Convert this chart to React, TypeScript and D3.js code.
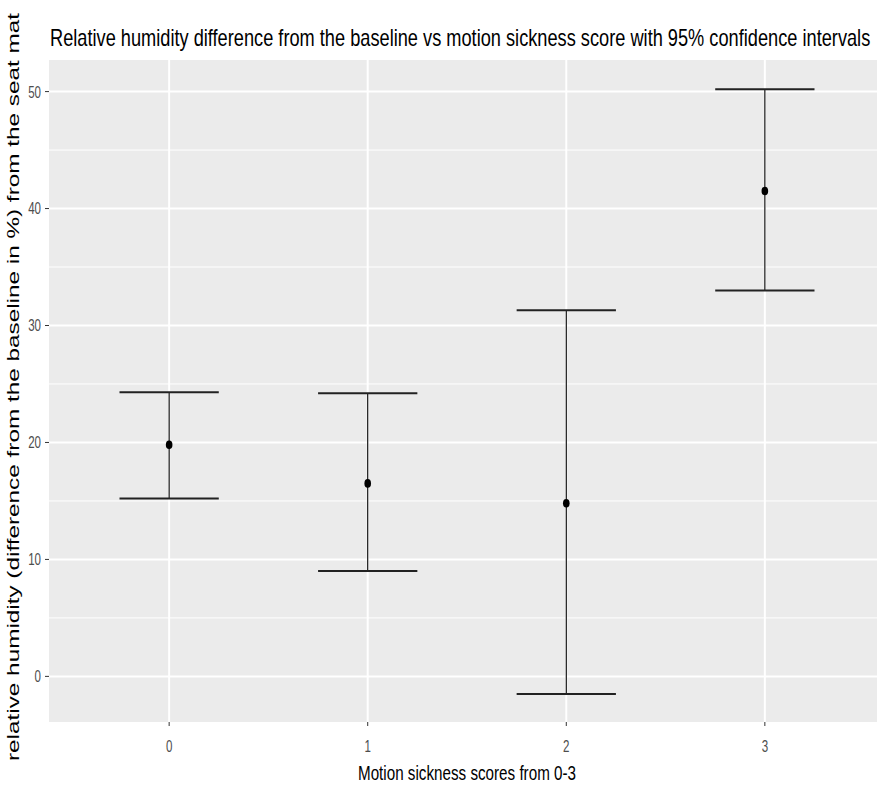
import { useEffect, useRef } from 'react'
import * as d3 from 'd3'

const scores = [0, 1, 2, 3]
const means = [19.8, 16.5, 14.8, 41.5]
const lowers = [15.2, 9.0, -1.5, 33.0]
const uppers = [24.3, 24.2, 31.3, 50.2]
const yTicks = [0, 10, 20, 30, 40, 50]
const yMinor = [5, 15, 25, 35, 45]

const W = 877
const H = 785
const panel = { left: 49, right: 877, top: 60, bottom: 722 }
const condensed = 'Liberation Sans, Arial, sans-serif'
const titleText = 'Relative humidity difference from the baseline vs motion sickness score with 95% confidence intervals'

export default function App() {
  const titleRef = useRef<SVGTextElement>(null)
  const x = d3.scaleLinear().domain([-0.6, 3.6]).range([50, 884])
  const y = d3.scaleLinear().domain([-3.9, 52.7]).range([panel.bottom, panel.top])
  const capHalf = x(0.25) - x(0)

  // squeeze the title horizontally so it spans the panel width
  useEffect(() => {
    const el = titleRef.current
    if (!el) return
    const natural = el.getComputedTextLength()
    const k = 820 / natural
    el.setAttribute('transform', `translate(50,0) scale(${k},1) translate(-50,0)`)
  }, [])

  return (
    <svg width={W} height={H} style={{ position: 'absolute', left: 0, top: 0, background: '#fff' }}>
      <defs>
        <clipPath id="panel-clip">
          <rect x={panel.left} y={panel.top} width={panel.right - panel.left} height={panel.bottom - panel.top} />
        </clipPath>
      </defs>

      {/* panel + grid */}
      <g clipPath="url(#panel-clip)">
        <rect x={panel.left} y={panel.top} width={panel.right - panel.left} height={panel.bottom - panel.top} fill="#EBEBEB" />
        {yMinor.map(v => (
          <line key={'mn' + v} x1={panel.left} x2={panel.right} y1={y(v)} y2={y(v)} stroke="#fff" strokeWidth={1} />
        ))}
        {yTicks.map(v => (
          <line key={'mj' + v} x1={panel.left} x2={panel.right} y1={y(v)} y2={y(v)} stroke="#fff" strokeWidth={2} />
        ))}
        {scores.map(s => (
          <line key={'vx' + s} x1={x(s)} x2={x(s)} y1={panel.top} y2={panel.bottom} stroke="#fff" strokeWidth={2} />
        ))}

        {/* error bars */}
        {scores.map((s, i) => (
          <g key={'eb' + s}>
            <line x1={x(s)} x2={x(s)} y1={y(uppers[i])} y2={y(lowers[i])} stroke="#000" strokeWidth={1.1} />
            <line x1={x(s) - capHalf} x2={x(s) + capHalf} y1={y(uppers[i])} y2={y(uppers[i])} stroke="#222" strokeWidth={2} />
            <line x1={x(s) - capHalf} x2={x(s) + capHalf} y1={y(lowers[i])} y2={y(lowers[i])} stroke="#222" strokeWidth={2} />
            <ellipse cx={x(s)} cy={y(means[i])} rx={3.3} ry={4.3} fill="#000" />
          </g>
        ))}
      </g>

      {/* y axis */}
      {yTicks.map(v => (
        <g key={'yt' + v}>
          <line x1={panel.left - 4} x2={panel.left} y1={y(v)} y2={y(v)} stroke="#333" strokeWidth={1} />
          <text x={panel.left - 8} y={y(v)} dy="0.35em" textAnchor="end" fontFamily={condensed} fontSize={17}
            fill="#4D4D4D" transform={`translate(${panel.left - 8},0) scale(0.68,1) translate(${-(panel.left - 8)},0)`}>{v}</text>
        </g>
      ))}

      {/* x axis */}
      {scores.map(s => (
        <g key={'xt' + s}>
          <line x1={x(s)} x2={x(s)} y1={panel.bottom} y2={panel.bottom + 4} stroke="#333" strokeWidth={1} />
          <text x={x(s)} y={panel.bottom + 30} textAnchor="middle" fontFamily={condensed} fontSize={17} fill="#4D4D4D"
            transform={`translate(${x(s)},0) scale(0.68,1) translate(${-x(s)},0)`}>{s}</text>
        </g>
      ))}

      {/* title */}
      <text ref={titleRef} x={50} y={46} fontFamily={condensed} fontSize={24} fill="#000"
        transform="translate(50,0) scale(0.77,1) translate(-50,0)">
        {titleText}
      </text>

      {/* axis titles */}
      <text x={467} y={780} textAnchor="middle" fontFamily={condensed} fontSize={20} fill="#000"
        textLength={218} lengthAdjust="spacingAndGlyphs">
        Motion sickness scores from 0-3
      </text>
      <text transform="translate(19,387) rotate(-90)" textAnchor="middle" fontFamily={condensed} fontSize={17} fill="#000"
        textLength={748} lengthAdjust="spacingAndGlyphs">
        relative humidity (difference from the baseline in %) from the seat mat
      </text>
    </svg>
  )
}
